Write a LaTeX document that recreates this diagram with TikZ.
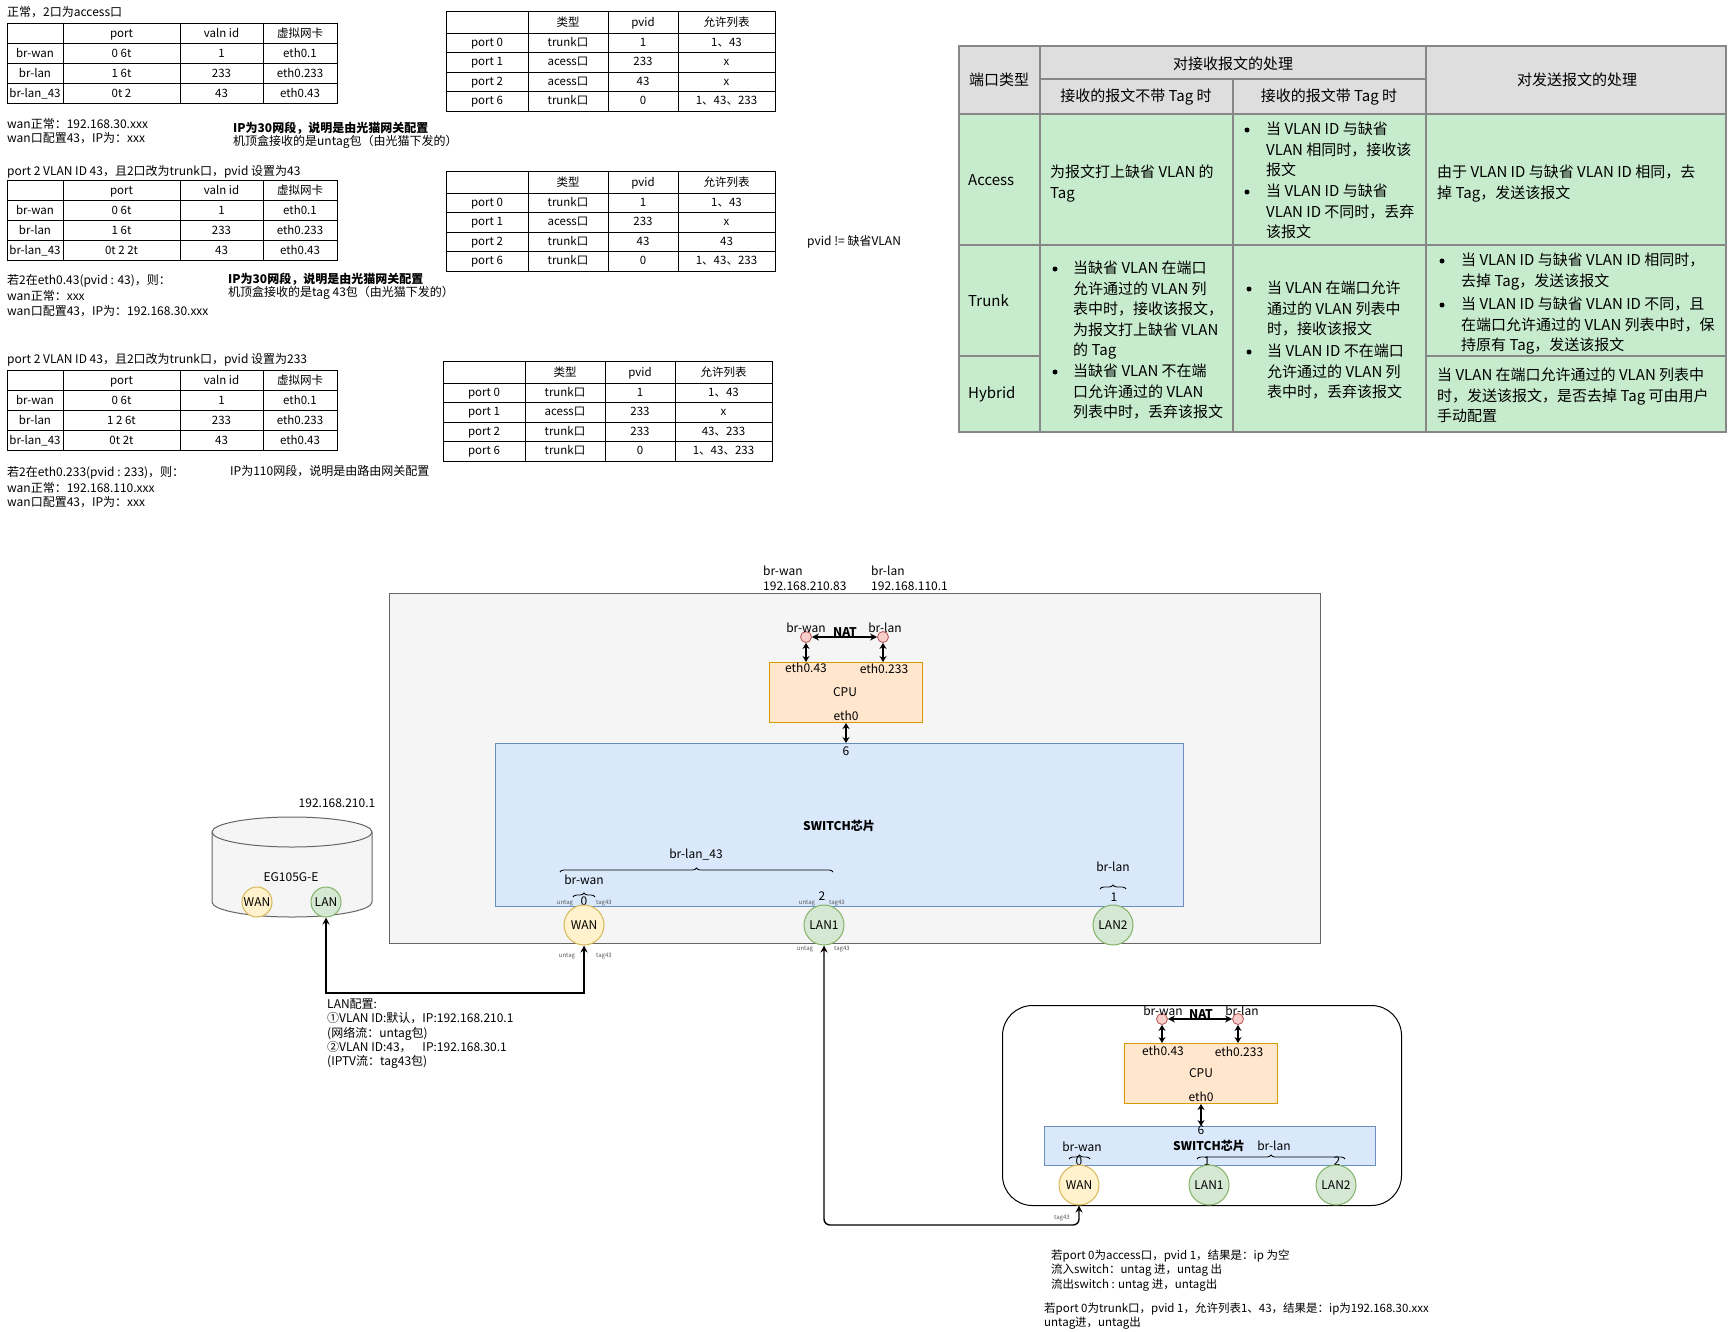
\documentclass[tikz,border=0pt]{standalone}
\usepackage{fontspec}
\setmainfont{Noto Sans CJK SC}
\usetikzlibrary{arrows.meta,decorations.pathreplacing,shapes.geometric}
\definecolor{cpuF}{HTML}{FFE6CC}\definecolor{cpuD}{HTML}{D79B00}
\definecolor{swF}{HTML}{DAE8FC}\definecolor{swD}{HTML}{6C8EBF}
\definecolor{wanF}{HTML}{FFF2CC}\definecolor{wanD}{HTML}{D6B656}
\definecolor{lanF}{HTML}{D5E8D4}\definecolor{lanD}{HTML}{82B366}
\definecolor{brF}{HTML}{F8CECC}\definecolor{brD}{HTML}{B85450}
\definecolor{boxF}{HTML}{F5F5F5}\definecolor{boxD}{HTML}{666666}
\definecolor{hdrF}{RGB}{222,222,222}\definecolor{bodyF}{RGB}{199,236,205}\definecolor{tabD}{RGB}{135,135,135}
\newcommand\fsz[2]{\fontsize{#1}{#2}\selectfont}
\tikzset{
  tabline/.style={line width=0.8pt,draw=black},
  cell/.style={font=\fsz{11.5}{13},anchor=base},
  note/.style={font=\fsz{12}{14},anchor=west},
  bnote/.style={font=\fsz{12}{14}\bfseries,anchor=west},
  bt/.style={font=\fsz{15}{20.5},align=left,anchor=north west},
  hd/.style={font=\fsz{15}{18}},
  bul/.style={circle,fill=black,minimum size=5},
  lbl/.style={font=\fsz{12}{14}},
  tiny/.style={font=\fsz{6}{7},text=black!65},
  pin/.style={circle,draw=brD,fill=brF,minimum size=11,line width=0.8pt},
  port/.style={circle,minimum size=40,line width=1pt,font=\fsz{12}{14}},
  wanp/.style={port,draw=wanD,fill=wanF},
  lanp/.style={port,draw=lanD,fill=lanF},
  smallport/.style={circle,minimum size=30,line width=1pt,font=\fsz{12}{14}},
  arr/.style={line width=1.4pt,{Stealth[length=7,width=7]}-{Stealth[length=7,width=7]}},
  sarr/.style={line width=1.6pt,{Stealth[length=6,width=7]}-{Stealth[length=6,width=7]}},
  brc/.style={decorate,decoration={brace,amplitude=4},line width=0.8pt},
  glines/.style={draw=tabD,line width=1.5pt}
}
\newcommand\lefttab[3]{%
  \draw[tabline] (7,#2) rectangle (337,#2+80);
  \foreach \yy in {20,40,60} {\draw[tabline] (7,#2+\yy) -- (337,#2+\yy);}
  \foreach \xx in {63,180,263} {\draw[tabline] (\xx,#2) -- (\xx,#2+80);}
  \foreach \a/\b/\c/\d [count=\i from 0] in {#3} {%
    \node[cell] (#1-\i-a) at (35,#2+14+20*\i) {\a};
    \node[cell] (#1-\i-b) at (121.5,#2+14+20*\i) {\b};
    \node[cell] (#1-\i-c) at (221.5,#2+14+20*\i) {\c};
    \node[cell] (#1-\i-d) at (300,#2+14+20*\i) {\d};
  }%
}
\newcommand\righttab[4]{%
  \begin{scope}[xshift=#2]
  \draw[tabline] (446,#3) rectangle (775,#3+100);
  \foreach \yy in {22,41.5,61,80.5} {\draw[tabline] (446,#3+\yy) -- (775,#3+\yy);}
  \foreach \xx in {528,608,678} {\draw[tabline] (\xx,#3) -- (\xx,#3+100);}
  \foreach \a/\b/\c/\d [count=\i from 0] in {#4} {%
    \node[cell] (#1-\i-a) at (487,#3+15.5+19.5*\i) {\a};
    \node[cell] (#1-\i-b) at (568,#3+15.5+19.5*\i) {\b};
    \node[cell] (#1-\i-c) at (643,#3+15.5+19.5*\i) {\c};
    \node[cell] (#1-\i-d) at (726.5,#3+15.5+19.5*\i) {\d};
  }%
  \end{scope}%
}
\begin{document}
\begin{tikzpicture}[x=1pt,y=-1pt,every node/.style={inner sep=0pt}]
\fill[white] (0,0) rectangle (1729,1331);
\path[use as bounding box] (0,0) rectangle (1729,1331);

% ---------- section 1
\node[note] (s1t) at (7,12) {正常，2口为access口};
\lefttab{lt1}{23}{{}/port/valn id/虚拟网卡, br-wan/0 6t/1/eth0.1, br-lan/1 6t/233/eth0.233, br-lan\_43/0t 2/43/eth0.43}
\node[note] (s1a) at (7,124) {wan正常：192.168.30.xxx};
\node[note] (s1b) at (7,138) {wan口配置43，IP为：xxx};
\node[bnote] (s1c) at (233,128) {IP为30网段，说明是由光猫网关配置};
\node[note] (s1d) at (233,142) {机顶盒接收的是untag包（由光猫下发的）};
\righttab{rt1}{0}{11}{{}/类型/pvid/允许列表, port 0/trunk口/1/1、43, port 1/acess口/233/x, port 2/acess口/43/x, port 6/trunk口/0/1、43、233}

% ---------- section 2
\node[note] (s2t) at (7,172) {port 2 VLAN ID 43，且2口改为trunk口，pvid 设置为43};
\lefttab{lt2}{180}{{}/port/valn id/虚拟网卡, br-wan/0 6t/1/eth0.1, br-lan/1 6t/233/eth0.233, br-lan\_43/0t 2 2t/43/eth0.43}
\node[note] (s2a) at (7,281) {若2在eth0.43(pvid : 43)，则：};
\node[note] (s2b) at (7,296) {wan正常：xxx};
\node[note] (s2c) at (7,311) {wan口配置43，IP为：192.168.30.xxx};
\node[bnote] (s2d) at (228,279) {IP为30网段，说明是由光猫网关配置};
\node[note] (s2e) at (228,293) {机顶盒接收的是tag 43包（由光猫下发的）};
\righttab{rt2}{0}{171}{{}/类型/pvid/允许列表, port 0/trunk口/1/1、43, port 1/acess口/233/x, port 2/trunk口/43/43, port 6/trunk口/0/1、43、233}
\node[note] (pv) at (807,242) {pvid != 缺省VLAN};

% ---------- section 3
\node[note] (s3t) at (7,360) {port 2 VLAN ID 43，且2口改为trunk口，pvid 设置为233};
\lefttab{lt3}{370}{{}/port/valn id/虚拟网卡, br-wan/0 6t/1/eth0.1, br-lan/1 2 6t/233/eth0.233, br-lan\_43/0t 2t/43/eth0.43}
\node[note] (s3a) at (7,473) {若2在eth0.233(pvid : 233)，则：};
\node[note] (s3b) at (7,488) {wan正常：192.168.110.xxx};
\node[note] (s3c) at (7,502) {wan口配置43，IP为：xxx};
\node[note] (s3d) at (230,471) {IP为110网段，说明是由路由网关配置};
\righttab{rt3}{-3}{361}{{}/类型/pvid/允许列表, port 0/trunk口/1/1、43, port 1/acess口/233/x, port 2/trunk口/233/43、233, port 6/trunk口/0/1、43、233}

% ---------- big table
\fill[hdrF] (959,46) rectangle (1726,114);
\fill[bodyF] (959,114) rectangle (1726,432);
\draw[glines] (959,46) rectangle (1726,432);
\draw[glines] (959,114) -- (1726,114);
\draw[glines] (1040,79) -- (1426,79);
\draw[glines] (959,245) -- (1726,245);
\draw[glines] (959,356) -- (1040,356);
\draw[glines] (1426,356) -- (1726,356);
\draw[glines] (1040,46) -- (1040,432);
\draw[glines] (1426,46) -- (1426,432);
\draw[glines] (1233,79) -- (1233,432);
\node[hd] (h1) at (999,80) {端口类型};
\node[hd] (h2) at (1233,64) {对接收报文的处理};
\node[hd] (h3) at (1136,97) {接收的报文不带 Tag 时};
\node[hd] (h4) at (1329,97) {接收的报文带 Tag 时};
\node[hd] (h5) at (1577,80) {对发送报文的处理};
\node[hd,anchor=west] (ra) at (968,180) {Access};
\node[hd,anchor=west] (rt) at (968,301) {Trunk};
\node[hd,anchor=west] (rh) at (968,394) {Hybrid};
\node[bt] (a2) at (1050,165) {为报文打上缺省 VLAN 的\\Tag};
\node[bul] (a3b1) at (1247,130) {};
\node[bt] (a3t1) at (1266,122) {当 VLAN ID 与缺省\\VLAN 相同时，接收该\\报文};
\node[bul] (a3b2) at (1247,192) {};
\node[bt] (a3t2) at (1266,184) {当 VLAN ID 与缺省\\VLAN ID 不同时，丢弃\\该报文};
\node[bt] (a4) at (1437,165) {由于 VLAN ID 与缺省 VLAN ID 相同，去\\掉 Tag，发送该报文};
\node[bul] (t2b1) at (1055,269) {};
\node[bt] (t2t1) at (1073,261) {当缺省 VLAN 在端口\\允许通过的 VLAN 列\\表中时，接收该报文，\\为报文打上缺省 VLAN\\的 Tag};
\node[bul] (t2b2) at (1055,372) {};
\node[bt] (t2t2) at (1073,364) {当缺省 VLAN 不在端\\口允许通过的 VLAN\\列表中时，丢弃该报文};
\node[bul] (t3b1) at (1249,289) {};
\node[bt] (t3t1) at (1267,281) {当 VLAN 在端口允许\\通过的 VLAN 列表中\\时，接收该报文};
\node[bul] (t3b2) at (1249,352) {};
\node[bt] (t3t2) at (1267,344) {当 VLAN ID 不在端口\\允许通过的 VLAN 列\\表中时，丢弃该报文};
\node[bul] (t4b1) at (1442,261) {};
\node[bt] (t4t1) at (1461,253) {当 VLAN ID 与缺省 VLAN ID 相同时，\\去掉 Tag，发送该报文};
\node[bul] (t4b2) at (1442,305) {};
\node[bt] (t4t2) at (1461,297) {当 VLAN ID 与缺省 VLAN ID 不同，且\\在端口允许通过的 VLAN 列表中时，保\\持原有 Tag，发送该报文};
\node[bt] (h4t) at (1437,368) {当 VLAN 在端口允许通过的 VLAN 列表中\\时，发送该报文，是否去掉 Tag 可由用户\\手动配置};

% ---------- main device
\node[lbl,anchor=west] (l1) at (763,571) {br-wan};
\node[lbl,anchor=west] (l2) at (763,586) {192.168.210.83};
\node[lbl,anchor=west] (l3) at (871,571) {br-lan};
\node[lbl,anchor=west] (l4) at (871,586) {192.168.110.1};
\node[draw=boxD,fill=boxF,line width=1pt,minimum width=931,minimum height=350,anchor=north west] (dev1) at (389,593) {};
\node[draw=swD,fill=swF,line width=1pt,minimum width=688,minimum height=163,anchor=north west] (sw1) at (495,743) {};
\node[draw=cpuD,fill=cpuF,line width=1pt,minimum width=153,minimum height=60,anchor=north west] (cpu1) at (769,662) {};
\node[lbl] (cpu1l) at (845,692) {CPU};
\node[lbl] (cpu1a) at (806,668) {eth0.43};
\node[lbl] (cpu1b) at (884,669) {eth0.233};
\node[lbl] (cpu1c) at (846,716) {eth0};
\node[pin] (bw1) at (806,637) {};
\node[pin] (bl1) at (883,637) {};
\node[lbl] (bw1l) at (806,628) {br-wan};
\node[lbl] (bl1l) at (885,628) {br-lan};
\node[lbl,font=\fsz{12}{14}\bfseries] (nat1) at (845,632) {NAT};
\draw[arr] (bw1) -- (bl1);
\draw[sarr] (bw1) -- (bw1 |- cpu1.north);
\draw[sarr] (bl1) -- (bl1 |- cpu1.north);
\draw[sarr] (cpu1.south) -- (cpu1.south |- sw1.north);
\node[lbl] (six1) at (846,751) {6};
\node[lbl,font=\fsz{12}{14}\bfseries] (sw1l) at (839,826) {SWITCH芯片};
\node[lbl] (b43) at (696,855) {br-lan\_43};
\draw[brc] (560,872) -- (833,872);
\node[lbl] (bwn) at (584,880) {br-wan};
\draw[brc] (573,897) -- (595,897);
\node[lbl] (p0) at (584,901) {0};
\node[tiny] (u1) at (565,903) {untag};
\node[tiny] (g1) at (604,903) {tag43};
\node[lbl] (p2) at (822,896) {2};
\node[tiny] (u2) at (807,903) {untag};
\node[tiny] (g2) at (837,903) {tag43};
\node[lbl] (bln) at (1113,867) {br-lan};
\draw[brc] (1100,889) -- (1126,889);
\node[lbl] (p1) at (1114,897) {1};
\node[wanp] (WAN1) at (584,925) {WAN};
\node[lanp] (LAN1a) at (824,925) {LAN1};
\node[lanp] (LAN2a) at (1113,925) {LAN2};
\node[tiny] (u3) at (567,956) {untag};
\node[tiny] (g3) at (604,956) {tag43};
\node[tiny] (u4) at (805,949) {untag};
\node[tiny] (g4) at (842,949) {tag43};

% ---------- EG105G-E
\node[lbl] (egip) at (337,803) {192.168.210.1};
\draw[boxD,fill=boxF,line width=1pt] (212,832) -- (212,902) .. controls (212,910.3) and (247.8,917) .. (292,917) .. controls (336.2,917) and (372,910.3) .. (372,902) -- (372,832) -- cycle;
\draw[boxD,fill=boxF,line width=1pt] (292,832) ellipse [x radius=80,y radius=15];
\node[lbl] (eg) at (291,877) {EG105G-E};
\node[smallport,draw=wanD,fill=wanF] (egWAN) at (257,902) {WAN};
\node[smallport,draw=lanD,fill=lanF] (egLAN) at (326,902) {LAN};
\coordinate (c1) at (455,993);
\draw[arr] (egLAN.south) |- (c1) -| (WAN1.south);
\node[lbl,anchor=north west,align=left,font=\fsz{12}{14.1}] (lancfg) at (327,999) {LAN配置:\\①VLAN ID:默认，IP:192.168.210.1\\(网络流：untag包)\\②VLAN ID:43，\ \ \ \ IP:192.168.30.1\\(IPTV流：tag43包)};

% ---------- second device
\node[draw=black,fill=white,rounded corners=30,line width=1pt,minimum width=399,minimum height=200,anchor=north west] (dev2) at (1002,1005) {};
\node[draw=cpuD,fill=cpuF,line width=1pt,minimum width=153,minimum height=60,anchor=north west] (cpu2) at (1124,1043) {};
\node[draw=swD,fill=swF,line width=1pt,minimum width=331,minimum height=39,anchor=north west] (sw2) at (1044,1126) {};
\node[lbl] (cpu2l) at (1201,1073) {CPU};
\node[lbl] (cpu2a) at (1163,1051) {eth0.43};
\node[lbl] (cpu2b) at (1239,1052) {eth0.233};
\node[lbl] (cpu2c) at (1201,1097) {eth0};
\node[pin] (bw2) at (1162,1019) {};
\node[pin] (bl2) at (1238,1019) {};
\node[lbl] (bw2l) at (1163,1011) {br-wan};
\node[lbl] (bl2l) at (1242,1011) {br-lan};
\node[lbl,font=\fsz{12}{14}\bfseries] (nat2) at (1201,1014) {NAT};
\draw[arr] (bw2) -- (bl2);
\draw[sarr] (bw2) -- (bw2 |- cpu2.north);
\draw[sarr] (bl2) -- (bl2 |- cpu2.north);
\draw[sarr] (cpu2.south) -- (cpu2.south |- sw2.north);
\node[lbl] (six2) at (1201,1130) {6};
\node[lbl,font=\fsz{12}{14}\bfseries] (sw2l) at (1209,1146) {SWITCH芯片};
\node[lbl] (bw2b) at (1082,1147) {br-wan};
\draw[brc] (1069,1159) -- (1090,1159);
\node[lbl] (q0) at (1079,1161) {0};
\node[lbl] (bl2b) at (1274,1146) {br-lan};
\draw[brc] (1197,1159) -- (1345,1159);
\node[lbl] (q1) at (1207,1161) {1};
\node[lbl] (q2) at (1337,1161) {2};
\node[wanp] (WAN2) at (1079,1185) {WAN};
\node[lanp] (LAN1b) at (1209,1185) {LAN1};
\node[lanp] (LAN2b) at (1336,1185) {LAN2};
\coordinate (c2) at (950,1225);
\draw[arr,rounded corners=6] (LAN1a.south) |- (c2) -| (WAN2.south);
\node[tiny] (g5) at (1062,1218) {tag43};

% ---------- bottom notes
\node[note,font=\fsz{11.5}{13}] (n1) at (1051,1256) {若port 0为access口，pvid 1，结果是：ip 为空};
\node[note,font=\fsz{11.5}{13}] (n2) at (1051,1270) {流入switch：untag 进，untag 出};
\node[note,font=\fsz{11.5}{13}] (n3) at (1051,1285) {流出switch : untag 进，untag出};
\node[note,font=\fsz{11.5}{13}] (n4) at (1044,1309) {若port 0为trunk口，pvid 1，允许列表1、43，结果是：ip为192.168.30.xxx};
\node[note,font=\fsz{11.5}{13}] (n5) at (1044,1323) {untag进，untag出};
\end{tikzpicture}
\end{document}
